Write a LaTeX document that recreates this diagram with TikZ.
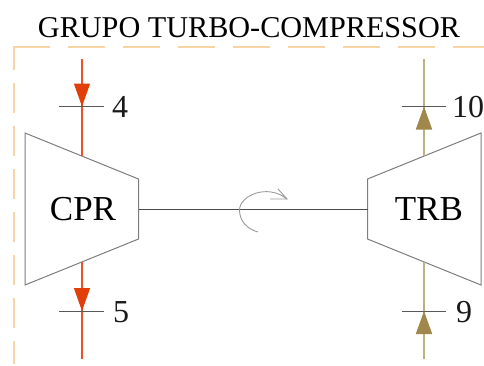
\documentclass[tikz,border=0pt]{standalone}
\usepackage{fontspec}
\setmainfont{Liberation Serif}
\usetikzlibrary{arrows.meta}
\definecolor{framecol}{RGB}{248,212,165}
\definecolor{redline}{RGB}{240,80,40}
\definecolor{redtip}{RGB}{226,62,10}
\definecolor{tanline}{RGB}{190,178,130}
\definecolor{tantip}{RGB}{160,135,75}
\definecolor{casecol}{RGB}{125,125,125}
\tikzset{
    casing/.style={draw=casecol,line width=1pt,line join=miter},
    shaftline/.style={draw=black!70,line width=0.9pt},
    tickline/.style={draw=black!65,line width=1pt},
    coldline/.style={draw=redline,line width=1.4pt},
    hotline/.style={draw=tanline,line width=1.7pt},
    coldarrow/.style={coldline,-{Triangle[length=23pt,width=16pt,color=redtip]}},
    hotarrow/.style={hotline,-{Triangle[length=23pt,width=16pt,color=tantip]}},
    rotline/.style={draw=black!40,line width=0.9pt},
    numlabel/.style={font=\fontsize{32}{32}\selectfont,inner sep=0pt,text=black!90},
    unitlabel/.style={font=\fontsize{35}{35}\selectfont,inner sep=0pt,text=black}
}
\begin{document}
\begin{tikzpicture}[x=1pt,y=-1pt]
    \useasboundingbox (0,0) rectangle (484,365);
    % frame
    \draw[framecol,line width=1.3pt,dash pattern=on 37pt off 18pt] (13,47) -- (484,47);
    \draw[framecol,line width=2.2pt,dash pattern=on 23pt off 13pt on 30pt off 13pt on 30pt off 13pt on 30pt off 13pt on 30pt off 13pt on 30pt off 13pt on 30pt off 13pt] (14,47) -- (14,365);
    \node[font=\fontsize{30.2}{30}\selectfont,inner sep=0pt,text=black] (title) at (249,28) {GRUPO TURBO-COMPRESSOR};
    % compressor
    \coordinate (cprA) at (25,133);
    \coordinate (cprB) at (138.5,179);
    \coordinate (cprC) at (138.5,239);
    \coordinate (cprD) at (25,285);
    \coordinate (cprE) at (138.5,209.5);
    \coordinate (cprtop) at (82,156);
    \coordinate (cprbot) at (82,262);
    \draw[casing] (cprA) -- (cprB) -- (cprC) -- (cprD) -- cycle;
    \node[unitlabel] (cpr) at (83,209.5) {CPR};
    % turbine
    \coordinate (trbA) at (481,133);
    \coordinate (trbB) at (367.5,179);
    \coordinate (trbC) at (367.5,239);
    \coordinate (trbD) at (481,285);
    \coordinate (trbE) at (367.5,209.5);
    \coordinate (trbtop) at (424,156);
    \coordinate (trbbot) at (424,262);
    \draw[casing] (trbA) -- (trbB) -- (trbC) -- (trbD) -- cycle;
    \node[unitlabel] (trb) at (429,209.5) {TRB};
    % shaft
    \draw[shaftline] (cprE) -- (trbE);
    % streams
    \coordinate (in4) at (82,59);
    \coordinate (pt4) at (82,106.5);
    \coordinate (pt5) at (82,311);
    \coordinate (out5) at (82,359);
    \coordinate (out10) at (424,59);
    \coordinate (pt10) at (424,106.5);
    \coordinate (pt9) at (424,311);
    \coordinate (in9) at (424,359);
    \draw[coldline] (in4) -- (cprtop);
    \draw[coldline] (cprbot) -- (out5);
    \draw[hotline] (trbtop) -- (out10);
    \draw[hotline] (in9) -- (trbbot);
    % ticks
    \draw[tickline] ([xshift=-23pt]pt4) -- ([xshift=22pt]pt4);
    \draw[tickline] ([xshift=-23pt]pt5) -- ([xshift=22pt]pt5);
    \draw[tickline] ([xshift=-22pt]pt10) -- ([xshift=22pt]pt10);
    \draw[tickline] ([xshift=-22pt]pt9) -- ([xshift=22pt]pt9);
    \draw[coldarrow] (in4) -- (pt4);
    \draw[coldarrow] (cprbot) -- (pt5);
    \draw[hotarrow] (trbtop) -- (pt10);
    \draw[hotarrow] (in9) -- (pt9);
    \node[numlabel] (n4) at (120,107) {4};
    \node[numlabel] (n5) at (121,312) {5};
    \node[numlabel] (n10) at (468,107) {10};
    \node[numlabel] (n9) at (464,312) {9};
    % rotation
    \coordinate (rotS) at (258,232);
    \coordinate (rotM) at (239.5,210);
    \coordinate (rotE) at (287,199);
    \coordinate (barbA) at (270,199);
    \coordinate (barbB) at (278,189);
    \draw[rotline] (rotS) .. controls (247,229) and (239.5,221) .. (rotM) .. controls (239.5,196) and (267,183) .. (rotE);
    \draw[rotline] (barbA) -- (rotE) -- (barbB);
\end{tikzpicture}
\end{document}
